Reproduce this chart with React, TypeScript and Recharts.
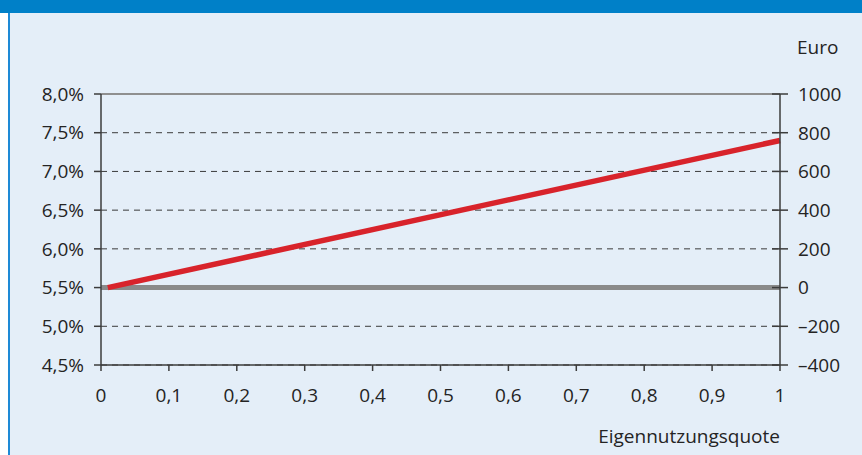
import React from 'react';
import {
  LineChart,
  Line,
  XAxis,
  YAxis,
  CartesianGrid,
  ReferenceLine,
} from 'recharts';

// x: Eigennutzungsquote
const xTicks = [0, 0.1, 0.2, 0.3, 0.4, 0.5, 0.6, 0.7, 0.8, 0.9, 1];
const rateTicks = [4.5, 5.0, 5.5, 6.0, 6.5, 7.0, 7.5, 8.0];
const euroTicks = [-400, -200, 0, 200, 400, 600, 800, 1000];

// red line, right axis (Euro)
const redQuote = [0.01, 1];
const redEuro = [0, 760];

// grey line, left axis (%)
const greyQuote = [0, 1];
const greyRate = [5.5, 5.5];

const redData = redQuote.map((q, i) => ({ q, euro: redEuro[i] }));
const greyData = greyQuote.map((q, i) => ({ q, rate: greyRate[i] }));

const FONT = '"Open Sans", sans-serif';
const FS = 19;
const TEXT = '#242424';
const AXIS = '#3c3c3c';

const comma = (v: number, digits: number) => v.toFixed(digits).replace('.', ',');

function RightTick(props: any) {
  const { x, y, payload } = props;
  return (
    <g>
      <line x1={x - 8} x2={x + 8} y1={y} y2={y} stroke={AXIS} strokeWidth={1.5} />
      <text
        x={x + 18}
        y={y}
        dy="0.36em"
        fill={TEXT}
        fontSize={FS}
        fontFamily={FONT}
        textAnchor="start"
      >
        {payload.value < 0 ? '\u2013' + Math.abs(payload.value) : payload.value}
      </text>
    </g>
  );
}

export default function App() {
  return (
    <div
      style={{
        position: 'absolute',
        left: 0,
        top: 0,
        width: 862,
        height: 455,
        background: '#ffffff',
        overflow: 'hidden',
      }}
    >
      <div
        style={{
          position: 'absolute',
          left: 8,
          top: 13,
          width: 854,
          height: 442,
          background: '#e4eef8',
          borderLeft: '2px solid #1e8ad6',
          boxSizing: 'border-box',
        }}
      />
      <div
        style={{
          position: 'absolute',
          left: 0,
          top: 0,
          width: 862,
          height: 13,
          background: '#0080c8',
        }}
      />
      <div style={{ position: 'absolute', left: 0, top: 0 }}>
        <LineChart
          width={862}
          height={455}
          margin={{ top: 94, right: 0, bottom: 40, left: 0 }}
        >
          <CartesianGrid
            vertical={false}
            yAxisId="left"
            stroke="#3a3a3a"
            strokeDasharray="6 5"
            strokeWidth={1}
          />
          <XAxis
            type="number"
            dataKey="q"
            domain={[0, 1]}
            ticks={xTicks}
            interval={0}
            height={50}
            tickSize={6}
            tickMargin={18}
            tickFormatter={(v: number) => (v === 0 || v === 1 ? String(v) : comma(v, 1))}
            tick={{ fill: TEXT, fontSize: FS, fontFamily: FONT }}
            axisLine={{ stroke: AXIS, strokeWidth: 1.5 }}
            tickLine={{ stroke: AXIS, strokeWidth: 1.5 }}
            allowDuplicatedCategory={false}
          />
          <YAxis
            yAxisId="left"
            orientation="left"
            domain={[4.5, 8]}
            ticks={rateTicks}
            interval={0}
            width={101}
            tickSize={7}
            tickMargin={10}
            tickFormatter={(v: number) => comma(v, 1) + '%'}
            tick={{ fill: TEXT, fontSize: FS, fontFamily: FONT }}
            axisLine={{ stroke: AXIS, strokeWidth: 1.5 }}
            tickLine={{ stroke: AXIS, strokeWidth: 1.5 }}
          />
          <YAxis
            yAxisId="right"
            orientation="right"
            domain={[-400, 1000]}
            ticks={euroTicks}
            interval={0}
            width={82}
            tickSize={0}
            tickMargin={0}
            tick={<RightTick />}
            tickLine={false}
            axisLine={{ stroke: AXIS, strokeWidth: 1.5 }}
          />
          <ReferenceLine yAxisId="left" y={8} stroke="#8f8f8f" strokeWidth={2} />
          <Line
            yAxisId="left"
            data={greyData}
            dataKey="rate"
            type="linear"
            stroke="#8a8a8a"
            strokeWidth={5}
            dot={false}
            activeDot={false}
            isAnimationActive={false}
          />
          <Line
            yAxisId="right"
            data={redData}
            dataKey="euro"
            type="linear"
            stroke="#d8232b"
            strokeWidth={5.5}
            dot={false}
            activeDot={false}
            isAnimationActive={false}
          />
        </LineChart>
      </div>
      <div
        style={{
          position: 'absolute',
          left: 797,
          top: 35,
          fontFamily: FONT,
          fontSize: FS,
          color: TEXT,
          lineHeight: '24px',
        }}
      >
        Euro
      </div>
      <div
        style={{
          position: 'absolute',
          right: 862 - 780,
          top: 424,
          fontFamily: FONT,
          fontSize: FS,
          color: TEXT,
          lineHeight: '24px',
          whiteSpace: 'nowrap',
        }}
      >
        Eigennutzungsquote
      </div>
    </div>
  );
}
